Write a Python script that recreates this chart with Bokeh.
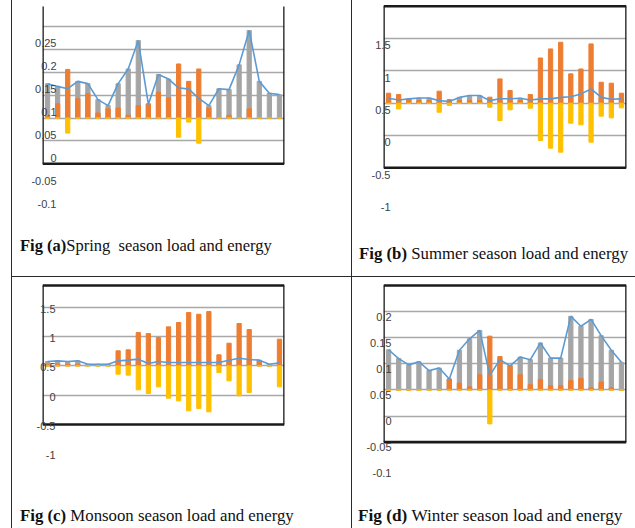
from bokeh.plotting import figure
from bokeh.models import (Range1d, LinearAxis, FixedTicker, CustomJSTickFormatter,
                          Spacer, Grid, Div)
from bokeh.layouts import row, column
from bokeh.embed import file_html
from bokeh.resources import INLINE

hours = list(range(1, 25))

# ---------------- data ----------------
# (a) Spring
spring_load = [0.175, 0.169, 0.164, 0.180, 0.175, 0.140, 0.127, 0.175, 0.207, 0.269, 0.130, 0.195,
               0.185, 0.166, 0.163, 0.143, 0.127, 0.164, 0.162, 0.216, 0.291, 0.180, 0.154, 0.151]
spring_gen = [0.104, 0.131, 0.206, 0.142, 0.153, 0.111, 0.120, 0.122, 0.106, 0.127, 0.131, 0.156,
              0.144, 0.218, 0.180, 0.207, 0.122, 0.100, 0.106, 0.101, 0.120, 0.100, 0.100, 0.100]
spring_net = [0.100, 0.100, 0.067, 0.100, 0.100, 0.100, 0.100, 0.100, 0.100, 0.100, 0.100, 0.100,
              0.100, 0.058, 0.091, 0.045, 0.100, 0.100, 0.100, 0.100, 0.100, 0.100, 0.100, 0.100]
spring_base = 0.1
spring_grid = [0.05, 0.1, 0.15, 0.2, 0.25, 0.3]
spring_ticks = [-0.1, -0.05, 0.0, 0.05, 0.1, 0.15, 0.2, 0.25]
spring_axis = (0.0, 0.3435)

# (b) Summer
summer_load = [0.577, 0.550, 0.567, 0.580, 0.580, 0.540, 0.526, 0.590, 0.620, 0.620, 0.540, 0.570,
               0.570, 0.577, 0.550, 0.567, 0.567, 0.590, 0.600, 0.644, 0.720, 0.590, 0.560, 0.567]
summer_gen = [0.655, 0.634, 0.557, 0.540, 0.540, 0.686, 0.557, 0.540, 0.540, 0.540, 0.593, 0.876,
              0.696, 0.540, 0.634, 1.200, 1.340, 1.443, 0.954, 1.030, 1.418, 0.825, 0.810, 0.655]
summer_net = [0.490, 0.412, 0.500, 0.500, 0.500, 0.360, 0.464, 0.500, 0.500, 0.500, 0.438, 0.232,
              0.397, 0.500, 0.423, -0.077, -0.196, -0.258, 0.191, 0.165, -0.103, 0.299, 0.273, 0.428]
summer_base = 0.5
summer_grid = [0.0, 0.5, 1.0, 1.5]
summer_ticks = [-1.0, -0.5, 0.0, 0.5, 1.0, 1.5]
summer_axis = (-0.5, 2.0)

# (c) Monsoon
monsoon_load = [0.574, 0.585, 0.574, 0.585, 0.528, 0.528, 0.528, 0.585, 0.597, 0.614, 0.540, 0.574,
                0.557, 0.557, 0.557, 0.557, 0.557, 0.557, 0.597, 0.630, 0.608, 0.597, 0.528, 0.551]
monsoon_gen = [0.520, 0.530, 0.530, 0.530, 0.510, 0.510, 0.510, 0.756, 0.773, 1.068, 1.051, 0.983,
               1.165, 1.239, 1.409, 1.380, 1.426, 0.688, 0.886, 1.222, 1.119, 0.585, 0.500, 0.955]
monsoon_net = [0.500, 0.500, 0.500, 0.500, 0.500, 0.500, 0.500, 0.358, 0.341, 0.091, 0.028, 0.142,
               -0.051, -0.097, -0.267, -0.227, -0.284, 0.386, 0.244, -0.011, 0.045, 0.500, 0.500, 0.142]
monsoon_base = 0.5
monsoon_grid = [0.0, 0.5, 1.0, 1.5]
monsoon_ticks = [-1.0, -0.5, 0.0, 0.5, 1.0, 1.5]
monsoon_axis = (-0.5, 1.87)

# (d) Winter
winter_load = [0.127, 0.110, 0.098, 0.104, 0.087, 0.092, 0.071, 0.126, 0.148, 0.164, 0.078, 0.108,
               0.096, 0.113, 0.108, 0.140, 0.111, 0.111, 0.191, 0.172, 0.185, 0.154, 0.126, 0.103]
winter_gen = [0.050, 0.050, 0.050, 0.050, 0.050, 0.050, 0.071, 0.063, 0.056, 0.079, 0.153, 0.114,
              0.097, 0.079, 0.060, 0.070, 0.058, 0.058, 0.068, 0.072, 0.054, 0.065, 0.054, 0.050]
winter_net = [0.050, 0.050, 0.050, 0.050, 0.050, 0.050, 0.050, 0.050, 0.050, 0.050, -0.015, 0.050,
              0.050, 0.050, 0.050, 0.050, 0.050, 0.050, 0.050, 0.050, 0.050, 0.050, 0.050, 0.050]
winter_base = 0.05
winter_grid = [0.0, 0.05, 0.1, 0.15, 0.2]
winter_ticks = [-0.1, -0.05, 0.0, 0.05, 0.1, 0.15, 0.2]
winter_axis = (-0.05, 0.25)

captions = [("Fig (a)", "Spring&nbsp; season load and energy"),
            ("Fig (b)", "&nbsp;Summer season load and energy"),
            ("Fig (c)", "&nbsp;Monsoon season load and energy"),
            ("Fig (d)", "&nbsp;Winter season load and energy")]

GREY, ORANGE, YELLOW, BLUE = "#A5A5A5", "#ED7D31", "#FFC000", "#5B9BD5"
FMT = CustomJSTickFormatter(code="return String(Math.round(tick * 100) / 100);")


def panel(width, height, b_left, b_right, v_ref, y_ref, k, shift, standoff,
          load, gen, net, base, grid, ticks, axis_lim, top_border):
    y_start = v_ref - (height - y_ref) / k
    y_end = v_ref + y_ref / k
    p = figure(width=width, height=height, output_backend="svg", toolbar_location=None,
               x_range=Range1d(0.5, 24.5), y_range=Range1d(y_start, y_end),
               x_axis_location=None, y_axis_location=None,
               min_border_left=b_left, min_border_right=b_right,
               min_border_top=0, min_border_bottom=0,
               outline_line_color=None, background_fill_color="white",
               border_fill_color="white")
    p.grid.visible = False
    p.extra_y_ranges = {"lab": Range1d(y_start + shift / k, y_end + shift / k)}
    p.add_layout(Grid(dimension=1, ticker=FixedTicker(ticks=grid),
                      grid_line_color="#a8a8a8", grid_line_width=1.6))
    ax = LinearAxis(y_range_name="lab", ticker=FixedTicker(ticks=ticks), formatter=FMT,
                    axis_line_color=None, major_tick_line_color=None,
                    minor_tick_line_color=None, major_tick_out=0, major_tick_in=0,
                    major_label_standoff=standoff,
                    major_label_text_font="Liberation Sans",
                    major_label_text_font_size="11px",
                    major_label_text_color="#404040")
    p.add_layout(ax, "left")

    bw = 0.42
    p.vbar(x=hours, bottom=base, top=load, width=bw, color=GREY)
    p.vbar(x=hours, bottom=base, top=gen, width=bw, color=ORANGE)
    p.vbar(x=hours, bottom=net, top=base, width=bw, color=YELLOW)
    p.line(hours, load, color=BLUE, line_width=1.6)

    lo, hi = axis_lim
    x0, x1 = 0.5, 24.5
    sx0 = [x0, x1, x0]
    sy0 = [lo, lo, lo]
    sx1 = [x0, x1, x1]
    sy1 = [hi, hi, lo]
    if top_border:
        sx0.append(x0); sy0.append(hi); sx1.append(x1); sy1.append(hi)
    p.segment(x0=sx0, y0=sy0, x1=sx1, y1=sy1, line_color="#1a1a1a", line_width=2.6)
    return p


def caption(cap, width, height, pad_top, pad_left, size):
    html = ('<div style="font-family:\'Liberation Serif\',serif;'
            f'font-size:{size}px;line-height:18px;color:#111;white-space:nowrap;'
            f'padding-top:{pad_top}px;padding-left:{pad_left}px">'
            f'<b>{cap[0]}</b>{cap[1]}</div>')
    return Div(text=html, width=width, height=height, margin=(0, 0, 0, 0))


pa = panel(339, 228, 26, 56, 0.0, 163.3, 458.0, -6.0, -14,
           spring_load, spring_gen, spring_net, spring_base, spring_grid, spring_ticks,
           spring_axis, False)
pb = panel(283, 228, 25, 9, 0.5, 102.7, 64.6, 6.7, -7,
           summer_load, summer_gen, summer_net, summer_base, summer_grid, summer_ticks,
           summer_axis, True)
pc = panel(339, 208, 30, 67, 0.5, 88.35, 58.65, 1.5, -13,
           monsoon_load, monsoon_gen, monsoon_net, monsoon_base, monsoon_grid, monsoon_ticks,
           monsoon_axis, True)
pd = panel(283, 208, 31, 9, 0.25, 8.0, 522.2, 5.0, -8,
           winter_load, winter_gen, winter_net, winter_base, winter_grid, winter_ticks,
           winter_axis, True)

ca = caption(captions[0], 339, 48, 9, 8, 16.5)
cb = caption(captions[1], 283, 48, 17, 7, 16.8)
cc = caption(captions[2], 339, 43, 22, 8, 16.8)
cd = caption(captions[3], 283, 43, 22, 6, 17.2)

LINE = "#2a2a2a"
layout = row(
    Spacer(width=11, height=528),
    Spacer(width=1, height=528, styles={"background-color": LINE}),
    column(pa, ca, Spacer(width=339, height=1, styles={"background-color": LINE}), pc, cc),
    Spacer(width=1, height=528, styles={"background-color": LINE}),
    column(pb, cb, Spacer(width=283, height=1, styles={"background-color": LINE}), pd, cd),
)

open("out.html", "w").write(file_html(layout, INLINE))
